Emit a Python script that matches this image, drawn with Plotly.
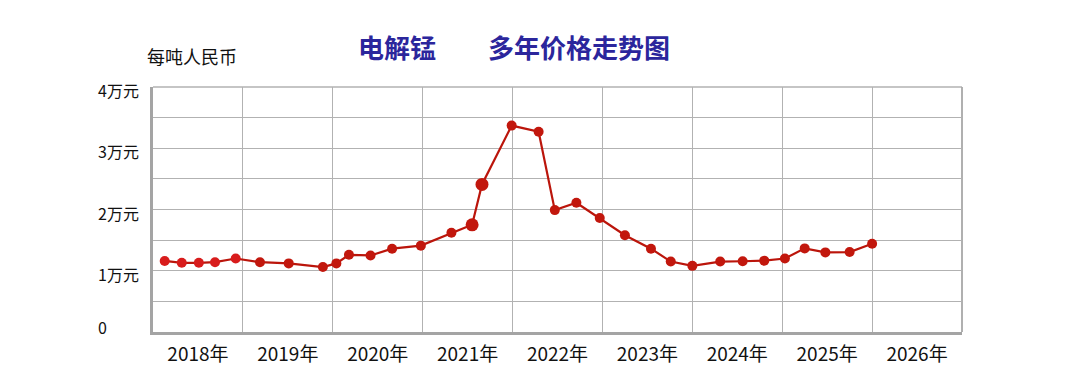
import plotly.graph_objects as go

# ---- data ----
dates = [2018.13, 2018.32, 2018.51, 2018.69, 2018.92, 2019.19, 2019.51, 2019.89,
         2020.04, 2020.18, 2020.42, 2020.66, 2020.98, 2021.32, 2021.55, 2021.66,
         2021.99, 2022.29, 2022.47, 2022.71, 2022.97, 2023.25, 2023.54, 2023.76,
         2024.00, 2024.31, 2024.56, 2024.80, 2025.03, 2025.25, 2025.48, 2025.75,
         2026.00]
prices_wan = [1.16, 1.13, 1.13, 1.14, 1.20, 1.14, 1.12, 1.06,
              1.12, 1.26, 1.25, 1.36, 1.41, 1.62, 1.75, 2.41,
              3.37, 3.27, 1.99, 2.11, 1.86, 1.58, 1.36, 1.15,
              1.08, 1.15, 1.155, 1.165, 1.20, 1.365, 1.30, 1.305,
              1.44]
year_labels = ["2018年", "2019年", "2020年", "2021年", "2022年",
               "2023年", "2024年", "2025年", "2026年"]
year_starts = [2018, 2019, 2020, 2021, 2022, 2023, 2024, 2025, 2026, 2027]
y_values = [0, 1, 2, 3, 4]
y_labels = ["0", "1万元", "2万元", "3万元", "4万元"]
title_text = "电解锰　　多年价格走势图"
unit_text = "每吨人民币"

FONT = "Noto Sans CJK SC"
GRID = "#b2b2b2"
AXIS = "#a4a4a4"

big_idx = {14, 15}
sizes = [13 if i in big_idx else 10 for i in range(len(dates))]
colors = ["#d81c1c" if d < 2019 else "#c2170d" for d in dates]

fig = go.Figure()
fig.add_trace(go.Scatter(
    x=dates, y=prices_wan, mode="lines+markers",
    line=dict(color="#bb150b", width=2.2),
    marker=dict(size=sizes, color=colors, opacity=1, line=dict(width=0)),
    hoverinfo="x+y", showlegend=False,
))

label_pos = [(y0 + y1) / 2 for y0, y1 in zip(year_starts[:-1], year_starts[1:])]

fig.update_layout(
    width=1090, height=390,
    margin=dict(l=153, r=128, t=87, b=58),
    paper_bgcolor="white", plot_bgcolor="white",
    font=dict(family=FONT, color="#111111"),
    xaxis=dict(
        range=[year_starts[0], year_starts[-1]],
        tickvals=label_pos, ticktext=year_labels,
        showgrid=False, zeroline=False,
        ticks="outside", ticklen=3, tickcolor="rgba(0,0,0,0)",
        tickfont=dict(family=FONT, size=19, color="#111111"),
        showline=True, linewidth=3, linecolor=AXIS,
        minor=dict(tickvals=year_starts, showgrid=True,
                   gridcolor=GRID, gridwidth=1.3, ticks=""),
    ),
    yaxis=dict(
        range=[0, 4], dtick=0.5, showticklabels=False,
        showgrid=True, gridcolor=GRID, gridwidth=1.3, zeroline=False,
        showline=True, linewidth=3, linecolor=AXIS,
    ),
)

# frame edges on the top and right (grid lines at the range limits)
fig.add_shape(type="line", xref="paper", yref="paper", x0=0, x1=1, y0=1, y1=1,
              line=dict(color=GRID, width=1.3), layer="below")
fig.add_shape(type="line", xref="paper", yref="paper", x0=1, x1=1, y0=0, y1=1,
              line=dict(color="#a8a8a8", width=1.8), layer="below")

for v, t in zip(y_values, y_labels):
    fig.add_annotation(
        x=-0.0705, xref="paper", y=v, yref="y",
        text=t, showarrow=False, xanchor="left", yanchor="middle",
        yshift=5 if v == 0 else -3,
        font=dict(family=FONT, size=16, color="#111111"),
    )

fig.add_annotation(
    x=0.446, y=1.167, xref="paper", yref="paper",
    text="<b>" + title_text + "</b>", showarrow=False,
    xanchor="center", yanchor="middle",
    font=dict(family=FONT, size=26, color="#2b269c"),
)
fig.add_annotation(
    x=0.048, y=1.127, xref="paper", yref="paper",
    text=unit_text, showarrow=False, xanchor="center", yanchor="middle",
    font=dict(family=FONT, size=18, color="#111111"),
)

fig.write_html("out.html")
